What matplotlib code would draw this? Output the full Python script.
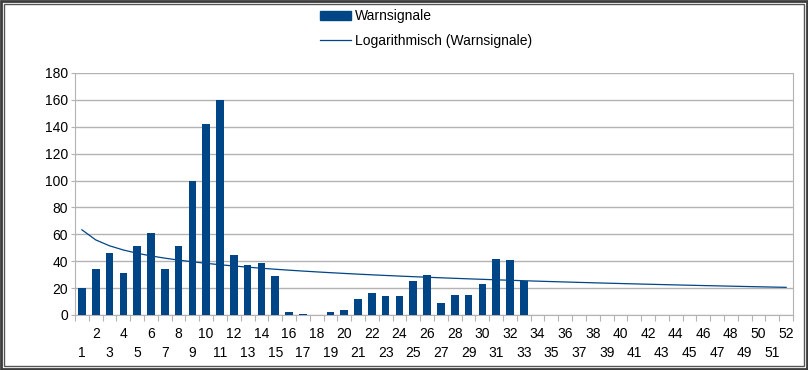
import numpy as np
import matplotlib
matplotlib.use("Agg")
from matplotlib import pyplot as plt
from matplotlib.lines import Line2D
from matplotlib.patches import Patch, Rectangle

plt.rcParams["font.family"] = ["Liberation Sans", "DejaVu Sans"]

# categories 1..52, values only exist for the first 33
weeks = list(range(1, 53))
warnsignale = [20, 34, 46, 31, 51, 61, 34, 51, 100, 142, 160, 45, 37, 39, 29,
               2, 1, 0, 2, 4, 12, 16, 14, 14, 25, 30, 9, 15, 15, 23, 42, 41, 25]
y_ticks = list(range(0, 181, 20))

BLUE = "#004586"
GRID = "#b3b3b3"
FS = 10

fig = plt.figure(figsize=(8.08, 3.70), dpi=100)
ax = fig.add_axes([75 / 808, 55 / 370, 718 / 808, 242 / 370])

x_data = np.array(weeks[:len(warnsignale)])
ax.bar(x_data, warnsignale, width=0.55, color=BLUE, zorder=3)

# logarithmic trend line fitted to the data, drawn over every category
a, b = np.polyfit(np.log(x_data), warnsignale, 1)
x_all = np.array(weeks)
ax.plot(x_all, a * np.log(x_all) + b, color=BLUE, lw=0.9, zorder=4)

ax.set_xlim(0.5, len(weeks) + 0.5)
ax.set_ylim(0, 180)
ax.set_yticks(y_ticks)
ax.yaxis.grid(True, color=GRID, lw=1)
ax.set_axisbelow(True)

for side in ["left", "bottom", "right"]:
    ax.spines[side].set_color(GRID)
ax.spines["top"].set_visible(False)
ax.tick_params(axis="y", length=3, color=GRID, labelsize=FS, pad=2)

# staggered category labels: odd on lower row, even on upper row
ax.set_xticks([w for w in weeks if w % 2 == 1])
ax.set_xticklabels([str(w) for w in weeks if w % 2 == 1])
ax.set_xticks([w for w in weeks if w % 2 == 0], minor=True)
ax.set_xticklabels([str(w) for w in weeks if w % 2 == 0], minor=True)
ax.tick_params(axis="x", which="major", length=0, pad=22, labelsize=FS)
ax.tick_params(axis="x", which="minor", length=0, pad=9, labelsize=FS)

# tick marks sit on category boundaries
sec = ax.secondary_xaxis("bottom")
sec.set_xticks(np.arange(0.5, len(weeks) + 1, 1.0))
sec.set_xticklabels([])
sec.tick_params(length=4, color=GRID)
sec.spines["bottom"].set_visible(False)

handles = [Patch(color=BLUE), Line2D([], [], color=BLUE, lw=0.9)]
fig.legend(handles, ["Warnsignale", "Logarithmisch (Warnsignale)"],
           loc="upper left", bbox_to_anchor=(320 / 808, 361 / 370),
           frameon=False, fontsize=FS, borderpad=0, borderaxespad=0,
           handlelength=2.2, handleheight=0.6, handletextpad=0.3,
           labelspacing=0.8)

# window frame
fig.patches.append(Rectangle((1 / 808, 1 / 370), 806 / 808, 368 / 370,
                             transform=fig.transFigure, fill=False,
                             ec="#3c3c3c", lw=2.0))
fig.patches.append(Rectangle((4 / 808, 4 / 370), 800 / 808, 362 / 370,
                             transform=fig.transFigure, fill=False,
                             ec="#555555", lw=1.0))

fig.savefig("out.png", dpi=100)
